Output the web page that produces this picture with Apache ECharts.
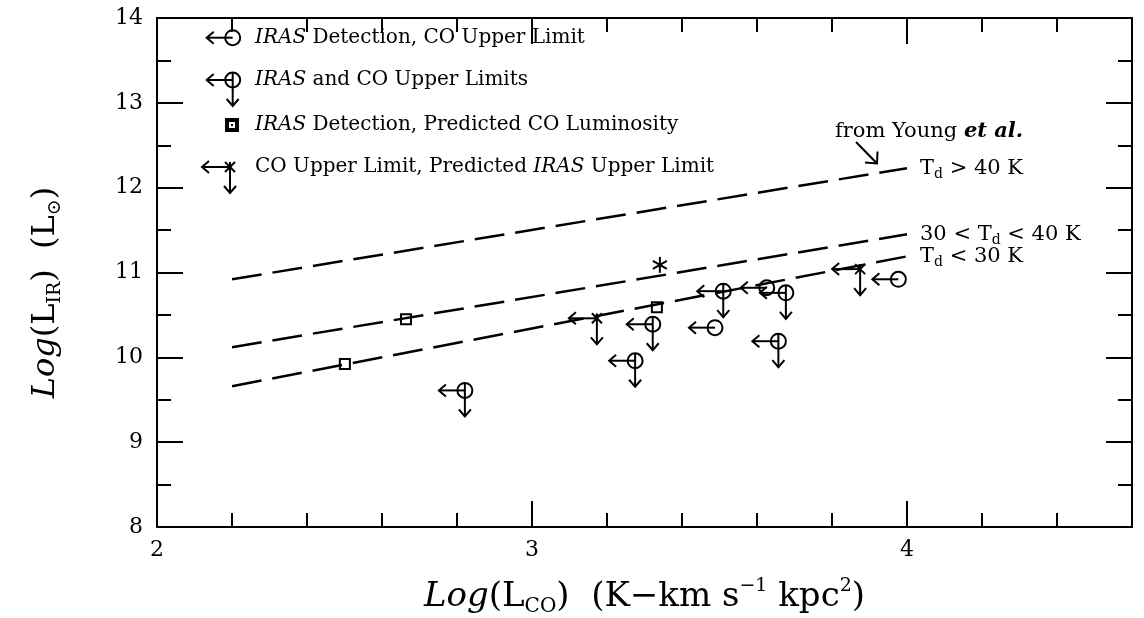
<!DOCTYPE html>
<html>
<head>
<meta charset="utf-8">
<script src="https://cdn.jsdelivr.net/npm/echarts@6/dist/echarts.min.js"></script>
<style>
html,body{margin:0;padding:0;background:#fff;}
#chart{width:1144px;height:618px;}
</style>
</head>
<body>
<div id="chart"></div>
<script>
// ---- data ----
// x = Log(L_CO), y = Log(L_IR)
const irasDetCoUpper = [[3.488, 10.35], [3.626, 10.82], [3.977, 10.92]];
const irasCoUpper = [[2.821, 9.61], [3.275, 9.96], [3.322, 10.39], [3.510, 10.78], [3.657, 10.19], [3.677, 10.76]];
const predictedCo = [[2.501, 9.92], [2.664, 10.45], [3.333, 10.59]];
const predictedIras = [[3.173, 10.46], [3.875, 11.04]];
const asteriskPts = [[3.341, 11.09]];
// Young et al. relations
const youngX = [2.2, 4.0];
const youngHot = [10.92, 12.23];   // Td > 40 K
const youngWarm = [10.12, 11.45];  // 30 < Td < 40 K
const youngCool = [9.66, 11.19];   // Td < 30 K
const xTicks = [2, 3, 4];
const yTicks = [8, 9, 10, 11, 12, 13, 14];

const FONT = 'DejaVu Serif';
const ST = {stroke: '#000', lineWidth: 2, fill: 'none'};

function shapes(kind, cx, cy) {
  const out = [];
  const line = (x1, y1, x2, y2) => out.push({type: 'line', shape: {x1, y1, x2, y2}, style: ST});
  const poly = (pts) => out.push({type: 'polyline', shape: {points: pts}, style: ST});
  const leftArrow = (len) => {
    line(cx, cy, cx - len, cy);
    poly([[cx - len + 7, cy - 6], [cx - len, cy], [cx - len + 7, cy + 6]]);
  };
  const downArrow = (y0, len) => {
    line(cx, y0, cx, cy + len);
    poly([[cx - 6, cy + len - 7], [cx, cy + len], [cx + 6, cy + len - 7]]);
  };
  const r = 7.5;
  if (kind === 'circL' || kind === 'circLD') {
    out.push({type: 'circle', shape: {cx, cy, r}, style: ST});
    leftArrow(26);
    if (kind === 'circLD') downArrow(cy - r, 26);
  } else if (kind === 'square') {
    out.push({type: 'rect', shape: {x: cx - 5, y: cy - 5, width: 10, height: 10}, style: ST});
  } else if (kind === 'squareLegend') {
    out.push({type: 'rect', shape: {x: cx - 5, y: cy - 5, width: 10, height: 10}, style: {stroke: '#000', lineWidth: 4, fill: 'none'}});
    out.push({type: 'rect', shape: {x: cx - 1, y: cy - 1, width: 2, height: 2}, style: {fill: '#000'}});
  } else if (kind === 'crossLD') {
    line(cx - 5, cy - 5, cx + 5, cy + 5);
    line(cx - 5, cy + 5, cx + 5, cy - 5);
    leftArrow(28);
    downArrow(cy - 5, 26);
  } else if (kind === 'star') {
    const a = 8;
    line(cx, cy - a, cx, cy + a);
    line(cx - a * 0.87, cy - a * 0.5, cx + a * 0.87, cy + a * 0.5);
    line(cx - a * 0.87, cy + a * 0.5, cx + a * 0.87, cy - a * 0.5);
  }
  return out;
}

function markerSeries(data, kind) {
  return {
    type: 'custom',
    xAxisIndex: 0, yAxisIndex: 0,
    data: data,
    renderItem: function (params, api) {
      const p = api.coord([api.value(0), api.value(1)]);
      return {type: 'group', children: shapes(kind, p[0], p[1])};
    },
    z: 5
  };
}

const tdRich = {
  n: {fontFamily: FONT, fontSize: 21, color: '#000', lineHeight: 26},
  s: {fontFamily: FONT, fontSize: 14, color: '#000', lineHeight: 14, verticalAlign: 'bottom'}
};

function youngLine(ys, text) {
  return {
    type: 'line',
    xAxisIndex: 0, yAxisIndex: 0,
    data: youngX.map((x, i) => [x, ys[i]]),
    symbol: 'none',
    lineStyle: {color: '#000', width: 2.5, type: [30, 11]},
    silent: true,
    endLabel: {show: true, distance: 13, formatter: text, rich: tdRich},
    z: 3
  };
}

const tickLabel = {fontFamily: FONT, fontSize: 22, color: '#000'};

const xBase = {type: 'value', min: 2, max: 4.6, gridIndex: 0, splitLine: {show: false}};
const yBase = {type: 'value', min: 8, max: 14, interval: 1, gridIndex: 0, splitLine: {show: false}};

const legendRows = [
  {kind: 'circL', cx: 232.7, cy: 37.7, text: '{i|IRAS} Detection, CO Upper Limit'},
  {kind: 'circLD', cx: 232.7, cy: 80, text: '{i|IRAS} and CO Upper Limits'},
  {kind: 'squareLegend', cx: 232, cy: 125, text: '{i|IRAS} Detection, Predicted CO Luminosity'},
  {kind: 'crossLD', cx: 230, cy: 167, text: 'CO Upper Limit, Predicted {i|IRAS} Upper Limit'}
];

const graphics = [];
legendRows.forEach(r => {
  graphics.push({type: 'group', children: shapes(r.kind, r.cx, r.cy), silent: true});
  graphics.push({
    type: 'text', x: 255, y: r.cy, silent: true,
    style: {
      text: r.text, fontFamily: FONT, fontSize: 20, fill: '#000', verticalAlign: 'middle',
      rich: {i: {fontFamily: FONT, fontSize: 20, fontStyle: 'italic', fill: '#000'}}
    }
  });
});
graphics.push({
  type: 'text', x: 835, y: 132, silent: true,
  style: {
    text: 'from Young {i|et al.}', fontFamily: FONT, fontSize: 21, fill: '#000', verticalAlign: 'middle',
    rich: {i: {fontFamily: FONT, fontSize: 21, fontStyle: 'italic', fontWeight: 'bold', fill: '#000'}}
  }
});
graphics.push({type: 'line', silent: true, shape: {x1: 856, y1: 142, x2: 877, y2: 163.5}, style: ST});
graphics.push({type: 'polyline', silent: true, shape: {points: [[865, 162.5], [877, 163.5], [877.5, 151.5]]}, style: ST});

const chart = echarts.init(document.getElementById('chart'), null, {renderer: 'canvas'});
chart.setOption({
  backgroundColor: '#fff',
  animation: false,
  grid: {left: 157, right: 12, top: 18, bottom: 91, containLabel: false, outerBoundsMode: 'none'},
  xAxis: [
    Object.assign({}, xBase, {
      position: 'bottom', interval: 1,
      axisLine: {show: true, onZero: false, lineStyle: {color: '#000', width: 2}},
      axisTick: {show: true, inside: true, length: 26, lineStyle: {color: '#000', width: 2}},
      axisLabel: {show: true, margin: 12, ...tickLabel, formatter: v => (xTicks.indexOf(Math.round(v * 1000) / 1000) >= 0 ? String(v) : '')},
      name: '{i|Log}{n|(L}{s|CO}{n|)  (K\u2212km s}{p|\u22121}{n| kpc}{p|2}{n|)}',
      nameLocation: 'middle', nameGap: 50,
      nameTextStyle: {
        rich: {
          i: {fontFamily: FONT, fontSize: 34, fontStyle: 'italic', color: '#000', lineHeight: 40},
          n: {fontFamily: FONT, fontSize: 34, color: '#000', lineHeight: 40},
          s: {fontFamily: FONT, fontSize: 20, color: '#000', lineHeight: 20, verticalAlign: 'bottom'},
          p: {fontFamily: FONT, fontSize: 19, color: '#000', lineHeight: 19, verticalAlign: 'top'}
        }
      }
    }),
    Object.assign({}, xBase, {
      position: 'bottom', interval: 0.2,
      axisLine: {show: false, onZero: false},
      axisTick: {show: true, inside: true, length: 14, lineStyle: {color: '#000', width: 2}},
      axisLabel: {show: false}
    }),
    Object.assign({}, xBase, {
      position: 'top', interval: 1,
      axisLine: {show: true, onZero: false, lineStyle: {color: '#000', width: 2}},
      axisTick: {show: true, inside: true, length: 26, lineStyle: {color: '#000', width: 2}},
      axisLabel: {show: false}
    }),
    Object.assign({}, xBase, {
      position: 'top', interval: 0.2,
      axisLine: {show: false, onZero: false},
      axisTick: {show: true, inside: true, length: 14, lineStyle: {color: '#000', width: 2}},
      axisLabel: {show: false}
    })
  ],
  yAxis: [
    Object.assign({}, yBase, {
      position: 'left',
      axisLine: {show: true, onZero: false, lineStyle: {color: '#000', width: 2}},
      axisTick: {show: true, inside: true, length: 26, lineStyle: {color: '#000', width: 2}},
      minorTick: {show: true, splitNumber: 2, length: 14, lineStyle: {color: '#000', width: 2}},
      axisLabel: {show: true, margin: 14, ...tickLabel, formatter: v => (yTicks.indexOf(v) >= 0 ? String(v) : '')},
      name: '{i|Log}{n|(L}{s|IR}{n|)  (L}{s|\u2299}{n|)}',
      nameLocation: 'middle', nameGap: 92, nameRotate: 90,
      nameTextStyle: {
        padding: [0, 40, 0, 0],
        rich: {
          i: {fontFamily: FONT, fontSize: 32, fontStyle: 'italic', color: '#000', lineHeight: 38},
          n: {fontFamily: FONT, fontSize: 32, color: '#000', lineHeight: 38},
          s: {fontFamily: FONT, fontSize: 19, color: '#000', lineHeight: 19, verticalAlign: 'bottom'}
        }
      }
    }),
    Object.assign({}, yBase, {
      position: 'right',
      axisLine: {show: true, onZero: false, lineStyle: {color: '#000', width: 2}},
      axisTick: {show: true, inside: true, length: 26, lineStyle: {color: '#000', width: 2}},
      minorTick: {show: true, splitNumber: 2, length: 14, lineStyle: {color: '#000', width: 2}},
      axisLabel: {show: false}
    })
  ],
  series: [
    youngLine(youngHot, '{n|T}{s|d}{n| > 40 K}'),
    youngLine(youngWarm, '{n|30 < T}{s|d}{n| < 40 K}'),
    youngLine(youngCool, '{n|T}{s|d}{n| < 30 K}'),
    markerSeries(irasDetCoUpper, 'circL'),
    markerSeries(irasCoUpper, 'circLD'),
    markerSeries(predictedCo, 'square'),
    markerSeries(predictedIras, 'crossLD'),
    markerSeries(asteriskPts, 'star')
  ],
  graphic: graphics
});
</script>
</body>
</html>
